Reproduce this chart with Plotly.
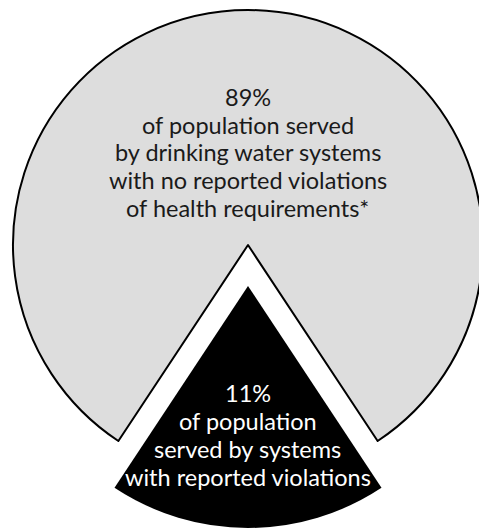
import plotly.graph_objects as go

# Data
categories = ["No reported violations", "Reported violations"]
label_pct = ["89%", "11%"]            # printed shares
wedge_share = [81.4, 18.6]            # shares as drawn in the picture (wedge ~67 deg)
label_lines = [
    ["89%", "of population served", "by drinking water systems",
     "with no reported violations", "of health requirements*"],
    ["11%", "of population", "served by systems", "with reported violations"],
]

W, H = 490, 531          # page is clipped to the 479px window
GRAY = "#dddddd"
rotation = 180 + 180 * wedge_share[1] / sum(wedge_share)

def dom_x(cx, half):
    return [(cx - half) / W, min(1.0, (cx + half) / W)]

def dom_y(cy, half):
    return [max(0.0, 1 - (cy + half) / H), min(1.0, 1 - (cy - half) / H)]

fig = go.Figure()
# main (light gray) part of the pie
fig.add_trace(go.Pie(
    labels=categories, values=wedge_share, sort=False, direction="clockwise",
    rotation=rotation, textinfo="none", hoverinfo="label",
    marker=dict(colors=[GRAY, "rgba(0,0,0,0)"], line=dict(color="black", width=[2, 0])),
    domain=dict(x=dom_x(248, 235), y=dom_y(245, 238)), showlegend=False,
))
# exploded (black) slice
fig.add_trace(go.Pie(
    labels=categories, values=wedge_share, sort=False, direction="clockwise",
    rotation=rotation, textinfo="none", hoverinfo="label",
    marker=dict(colors=["rgba(0,0,0,0)", "black"], line=dict(color="black", width=[0, 0])),
    domain=dict(x=dom_x(248, 242), y=dom_y(286, 245)), showlegend=False,
))

FS = 23.5
def add_block(lines, first_baseline, step, color):
    for i, line in enumerate(lines):
        mid = first_baseline + i * step - 0.387 * FS
        fig.add_annotation(text=line, x=248 / W, y=1 - mid / H, xref="paper", yref="paper",
                           showarrow=False, xanchor="center", yanchor="middle", align="center",
                           font=dict(family="Lato", size=FS, color=color))

add_block(label_lines[0], 106, 27.75, "#1a1a1a")
add_block(label_lines[1], 402, 28, "white")

fig.update_layout(width=W, height=H, margin=dict(l=0, r=0, t=0, b=0),
                  paper_bgcolor="white", plot_bgcolor="white")
fig.write_html("out.html", config={"displayModeBar": False},
               post_script="document.body.style.margin='0';"
                           "document.body.style.overflow='hidden';"
                           "document.documentElement.style.overflow='hidden';")
